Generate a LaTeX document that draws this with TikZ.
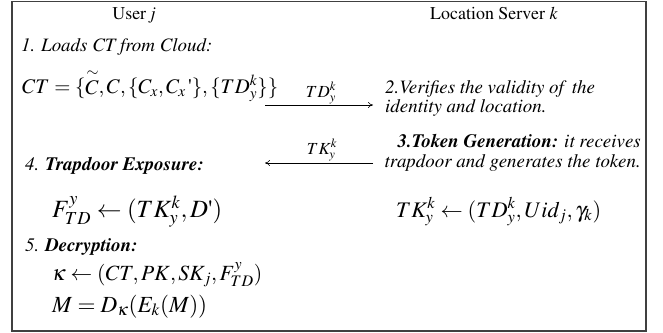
\documentclass[tikz,border=0pt]{standalone}
\usepackage[T1]{fontenc}
\usepackage{mathptmx}
\usepackage{graphicx}
\usetikzlibrary{arrows.meta}
\newcommand{\qtick}{\mbox{\upshape\textquotesingle}}
\tikzset{
  txt/.style={inner sep=0pt, anchor=base west, font=\fontsize{19}{22}\selectfont\itshape},
  head/.style={inner sep=0pt, anchor=base, font=\fontsize{18}{20}\selectfont},
  eq/.style={inner sep=0pt, anchor=base west, font=\fontsize{21}{24}\selectfont},
  lbl/.style={inner sep=0pt, anchor=base, font=\fontsize{17}{18}\selectfont},
  msg/.style={line width=0.6bp, -{To[length=5bp,width=6bp]}},
  frame/.style={draw=black!75, line width=1.3bp}
}
\begin{document}
\begin{tikzpicture}[x=1bp,y=-1bp]
\useasboundingbox (0,0) rectangle (663,332);
\draw[frame] (12,1.5) rectangle (646,331);
\node[head] (user) at (134,19) {User \textit{j}};
\node[head] (server) at (494,19) {Location Server \textit{k}};
\node[txt] (s1) at (21,51) {1. Loads CT from Cloud:};
\node[eq] (ct) at (22,93) {\resizebox{256bp}{!}{$CT=\{{\stackrel{\sim}{C}},C,\{C_x,C_x\,\qtick\},\{TD_y^k\}\}$}};
\node[txt] (s2a) at (385,93) {2.Verifies the validity of\, the};
\node[txt] (s2b) at (385,112) {identity and location.};
\node[txt, anchor=base east] (s3a) at (641,147) {\textbf{3.Token Generation:} it receives};
\node[txt, anchor=base east] (s3b) at (641,167) {trapdoor and generates the token.};
\node[txt] (s4) at (25,170) {4. \textbf{Trapdoor Exposure:}};
\node[eq] (f) at (52,217) {\resizebox{170bp}{!}{$F_{TD}^{y}\leftarrow(TK_y^k,D\qtick)$}};
\node[eq] (tk) at (396,217) {\resizebox{205bp}{!}{$TK_y^k\leftarrow(TD_y^k,Uid_j,\gamma_k)$}};
\node[txt] (s5) at (25,251) {5. \textbf{Decryption:}};
\node[eq] (kap) at (52,280) {\resizebox{210bp}{!}{$\kappa\leftarrow(CT,PK,SK_j,F_{TD}^{y})$}};
\node[eq] (m) at (52,312) {\resizebox{155bp}{!}{$M=D_\kappa(E_k(M))$}};
\coordinate (a1s) at (265,105);
\coordinate (a1e) at (373,105);
\coordinate (a2s) at (373,163);
\coordinate (a2e) at (265,163);
\draw[msg] (a1s) -- (a1e);
\draw[msg] (a2s) -- (a2e);
\node[lbl] (l1) at (321,97) {$TD_y^k$};
\node[lbl] (l2) at (322,154) {$TK_y^k$};
\end{tikzpicture}
\end{document}
